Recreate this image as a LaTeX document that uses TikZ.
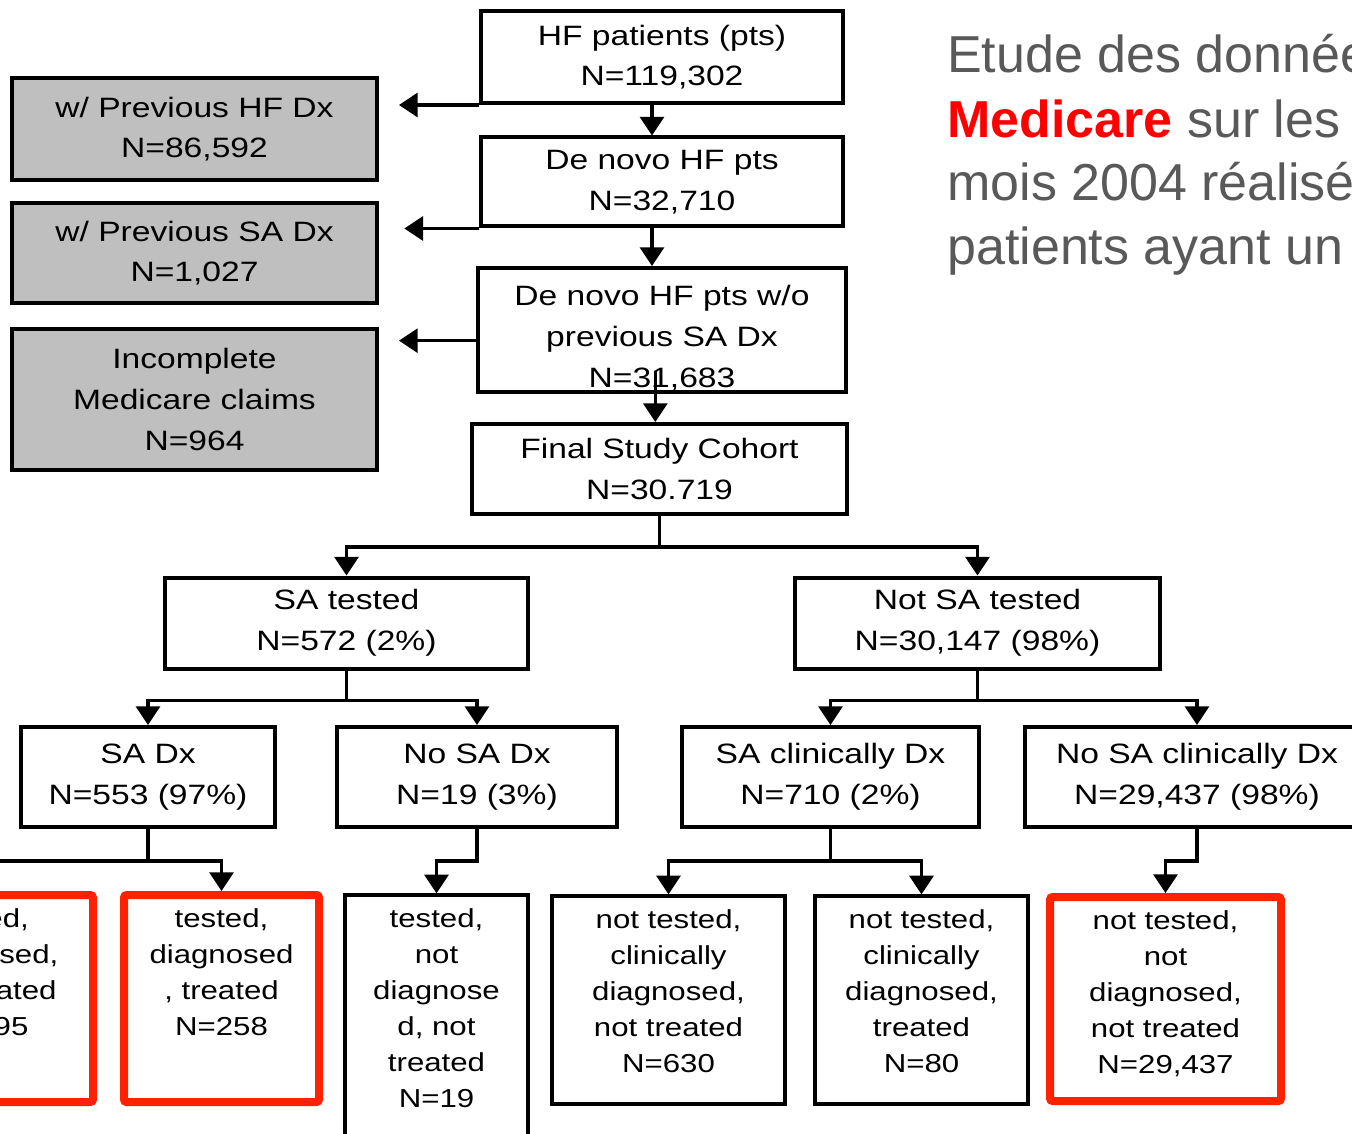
\documentclass[tikz,border=0pt]{standalone}
\usepackage{fontspec}
\setmainfont{Liberation Sans}
\newfontfamily\boxfont{Liberation Sans}[FakeStretch=1.2]
\usetikzlibrary{arrows.meta,shadows}
\definecolor{prevgray}{RGB}{191,191,191}
\definecolor{markred}{RGB}{255,34,0}
\definecolor{titlegray}{RGB}{89,89,89}
\definecolor{titlered}{RGB}{255,0,0}
\newcommand{\leaftext}[3]{\parbox[c][#2][t]{#1}{\centering\rule{0pt}{24pt}#3}}

\begin{document}
\begin{tikzpicture}[x=0.75pt,y=-0.75pt,
  boxtext/.style={align=center, inner sep=0pt, font=\boxfont\fontsize{21}{30.5}\selectfont},
  stepbox/.style={boxtext, draw, line width=3pt, fill=white},
  prevbox/.style={stepbox, fill=prevgray},
  leafbox/.style={draw, line width=2.5pt, fill=white, inner sep=0pt, font=\boxfont\fontsize{19.5}{27}\selectfont},
  markbox/.style={leafbox, draw=markred, line width=6pt, rounded corners=2pt},
  link/.style={line width=2.3pt},
  arr/.style={link, -{Triangle[length=14pt,width=18pt]}}]
\useasboundingbox (0,0) rectangle (1352,1134);
\clip (0,0) rectangle (1352,1134);

% selection of the cohort
\node[stepbox, minimum width=271.5pt, minimum height=69pt] (hf) at (662,57) {HF patients (pts)\\N=119,302};
\node[prevbox, minimum width=273.75pt, minimum height=76.5pt] (prevhf) at (194.5,129) {w/ Previous HF Dx\\N=86,592};
\node[stepbox, minimum width=271.5pt, minimum height=66.75pt] (denovo) at (662,182) {De novo HF pts\\N=32,710};
\node[prevbox, minimum width=273.75pt, minimum height=75pt] (prevsa) at (194.5,253) {w/ Previous SA Dx\\N=1,027};
\begin{scope}
  \clip (478,268) rectangle (846,390);
  \node[boxtext] (nosatext) at (662,338) {De novo HF pts w/o\\previous SA Dx\\N=31,683};
\end{scope}
\node[stepbox, fill=none, minimum width=276pt, minimum height=93pt] (nosa) at (662,330) {};
\node[prevbox, minimum width=273.75pt, minimum height=105.75pt] (incompl) at (194.5,399.5) {Incomplete\\Medicare claims\\N=964};
\node[stepbox, minimum width=281.25pt, minimum height=67.5pt] (final) at (659.5,469) {Final Study Cohort\\N=30.719};

\draw[arr, shorten >=15pt] (hf.south west) -- (hf.south west -| prevhf.east);
\draw[arr, shorten >=19pt] (denovo.south west) -- (denovo.south west -| prevsa.east);
\draw[arr, shorten >=15pt] ([yshift=-8pt]nosa.west) -- ([yshift=-8pt]nosa.west -| incompl.east);
\draw[arr] ([xshift=-7.5pt]hf.south) -- ([xshift=-7.5pt]denovo.north);
\draw[arr] ([xshift=-7.5pt]denovo.south) -- ([xshift=-7.5pt]nosa.north);
\coordinate (nosaout) at ([xshift=-5pt,yshift=17pt]nosa.south);
\draw[arr] (nosaout) -- (nosaout |- final.north);

% tested or not
\node[stepbox, minimum width=272.25pt, minimum height=68.25pt] (satest) at (346.5,623) {SA tested\\N=572 (2\%)};
\node[stepbox, minimum width=273.75pt, minimum height=68.25pt] (notest) at (977.5,623) {Not SA tested\\N=30,147 (98\%)};
\draw[link] (final.south) -- ++(0,31) coordinate (splitfinal);
\draw[arr] (splitfinal) -| (satest.north);
\draw[arr] (splitfinal) -| (notest.north);

% diagnosis
\node[stepbox, minimum width=190.5pt, minimum height=75pt] (sadx) at (148,777) {SA Dx\\N=553 (97\%)};
\node[stepbox, minimum width=210pt, minimum height=75pt] (nosadx) at (477,777) {No SA Dx\\N=19 (3\%)};
\node[stepbox, minimum width=222.75pt, minimum height=75pt] (sacl) at (830.5,777) {SA clinically Dx\\N=710 (2\%)};
\node[stepbox, minimum width=258pt, minimum height=75pt] (nosacl) at (1197,777) {No SA clinically Dx\\N=29,437 (98\%)};
\draw[link] (satest.south) -- ++(0,30) coordinate (splitsa);
\draw[arr] (splitsa) -| (sadx.north);
\draw[arr] (splitsa) -| (nosadx.north);
\draw[link] (notest.south) -- ++(0,30) coordinate (splitnot);
\draw[arr] (splitnot) -| (sacl.north);
\draw[arr] (splitnot) -| (nosacl.north);

% treatment
\node[markbox] (trnot) at (-18,998.5) {\leaftext{166.5pt}{155.25pt}{tested,\\diagnosed,\\not treated\\N=295}};
\node[markbox] (trd) at (221.5,998.5) {\leaftext{146.25pt}{155.25pt}{tested,\\diagnosed\\, treated\\N=258}};
\node[leafbox] (tnd) at (436.5,1025) {\leaftext{137.25pt}{195pt}{tested,\\not\\diagnose\\d, not\\treated\\N=19}};
\node[leafbox] (ntcn) at (668.5,1000) {\leaftext{174.75pt}{156pt}{not tested,\\clinically\\diagnosed,\\not treated\\N=630}};
\node[leafbox] (ntct) at (921.5,1000) {\leaftext{159.75pt}{156pt}{not tested,\\clinically\\diagnosed,\\treated\\N=80}};
\node[markbox, drop shadow={opacity=0.3, shadow xshift=2pt, shadow yshift=-3pt}] (ntnd) at (1165.5,999) {\leaftext{173.25pt}{153pt}{not tested,\\not\\diagnosed,\\not treated\\N=29,437}};
\draw[link] (sadx.south) -- ++(0,32) coordinate (splitdx);
\draw[arr] (splitdx) -| (trnot.north);
\draw[arr] (splitdx) -| (trd.north);
\draw[arr] (nosadx.south) -- ++(0,32) -| (tnd.north);
\draw[link] (sacl.south) -- ++(0,32) coordinate (splitcl);
\draw[arr] (splitcl) -| (ntcn.north);
\draw[arr] (splitcl) -| (ntct.north);
\draw[arr] (nosacl.south) -- ++(0,32) -| (ntnd.north);

% title
\node[anchor=base west, align=left, inner sep=0pt, text=titlegray, font=\fontsize{39}{48}\selectfont] (title) at (947,265)
  {Etude des données\\\textbf{\textcolor{titlered}{Medicare}} sur les\\mois 2004 réalisé\\patients ayant un};
\end{tikzpicture}
\end{document}
